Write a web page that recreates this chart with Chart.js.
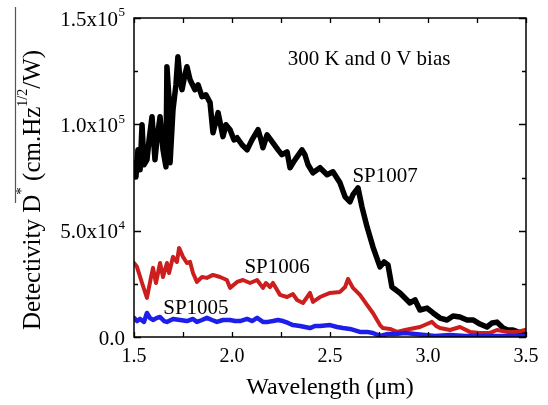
<!DOCTYPE html>
<html>
<head>
<meta charset="utf-8">
<script src="https://cdn.jsdelivr.net/npm/chart.js@4.4.0/dist/chart.umd.min.js"></script>
<style>
  html, body { margin: 0; padding: 0; background: #fff; }
  #wrap { width: 548px; height: 405px; position: relative; }
</style>
</head>
<body>
<div id="wrap"><canvas id="chartD"></canvas></div>
<script>
"use strict";

// SP1007 (black)
const sp1007Wl = [1.500, 1.510, 1.520, 1.531, 1.541, 1.551, 1.566, 1.577, 1.592, 1.607, 1.617, 1.633, 1.648, 1.663, 1.668, 1.679, 1.684, 1.699, 1.714, 1.724, 1.735, 1.745, 1.760, 1.770, 1.786, 1.811, 1.827, 1.847, 1.867, 1.888, 1.903, 1.929, 1.954, 1.969, 1.990, 2.010, 2.026, 2.051, 2.077, 2.102, 2.133, 2.148, 2.158, 2.179, 2.209, 2.235, 2.255, 2.281, 2.296, 2.321, 2.357, 2.372, 2.388, 2.413, 2.449, 2.485, 2.515, 2.551, 2.577, 2.602, 2.617, 2.643, 2.663, 2.689, 2.719, 2.755, 2.776, 2.796, 2.816, 2.857, 2.908, 2.934, 2.959, 2.995, 3.026, 3.061, 3.097, 3.128, 3.163, 3.199, 3.230, 3.265, 3.301, 3.327, 3.352, 3.383, 3.408, 3.434, 3.459, 3.485, 3.500];
const sp1007D = [81900, 75300, 88000, 78600, 99800, 81000, 83300, 92700, 103600, 83300, 92700, 103600, 88000, 80000, 127100, 111600, 81900, 106900, 118600, 131800, 121000, 116300, 123400, 127100, 121000, 116300, 118600, 113000, 113900, 110200, 96000, 105500, 94200, 99800, 97500, 92700, 93700, 90400, 88000, 92700, 97500, 92700, 89000, 95100, 91300, 88000, 85700, 87100, 79600, 83300, 88000, 85700, 81000, 77200, 79600, 76300, 77700, 72500, 65900, 63600, 66900, 70100, 61200, 51800, 42400, 33000, 35300, 33900, 23500, 20700, 16000, 17400, 12700, 13600, 11300, 8900, 8000, 9900, 9400, 8000, 8000, 6100, 4700, 6600, 7000, 4200, 3300, 3300, 2400, 1900, 1400];

// SP1006 (red)
const sp1006Wl = [1.500, 1.515, 1.541, 1.566, 1.587, 1.597, 1.612, 1.633, 1.648, 1.668, 1.679, 1.699, 1.719, 1.730, 1.750, 1.770, 1.786, 1.801, 1.821, 1.847, 1.872, 1.903, 1.939, 1.974, 1.990, 2.026, 2.056, 2.092, 2.128, 2.158, 2.173, 2.194, 2.209, 2.245, 2.281, 2.311, 2.332, 2.362, 2.398, 2.413, 2.449, 2.500, 2.551, 2.577, 2.592, 2.617, 2.653, 2.689, 2.719, 2.755, 2.770, 2.806, 2.842, 2.883, 2.908, 2.959, 2.995, 3.020, 3.041, 3.061, 3.112, 3.163, 3.214, 3.265, 3.316, 3.352, 3.403, 3.454, 3.495];
const sp1006D = [34800, 33000, 25400, 18400, 28200, 32500, 25400, 34800, 28200, 34800, 30100, 37700, 35300, 41900, 37700, 34800, 35300, 30100, 25900, 28200, 27800, 29200, 28200, 26800, 23100, 25900, 26800, 25400, 26800, 23100, 25400, 23500, 25400, 19800, 18800, 20200, 17400, 16000, 20700, 16500, 18800, 20700, 21200, 23500, 27300, 23100, 19800, 15100, 11300, 5600, 4200, 3800, 2400, 3300, 3800, 4700, 6100, 7100, 5200, 4200, 3300, 4700, 2400, 1900, 1900, 3300, 2400, 2400, 3300];

// SP1005 (blue)
const sp1005Wl = [1.500, 1.515, 1.531, 1.551, 1.566, 1.582, 1.597, 1.617, 1.633, 1.653, 1.668, 1.699, 1.735, 1.770, 1.801, 1.821, 1.847, 1.872, 1.898, 1.923, 1.954, 1.990, 2.015, 2.041, 2.077, 2.102, 2.128, 2.158, 2.184, 2.209, 2.235, 2.260, 2.286, 2.311, 2.347, 2.398, 2.423, 2.449, 2.500, 2.536, 2.566, 2.602, 2.653, 2.689, 2.719, 2.755, 2.796, 2.832, 2.883, 2.934, 2.985, 3.036, 3.112, 3.189, 3.265, 3.367, 3.495];
const sp1005D = [9000, 7500, 8500, 7100, 11300, 8900, 8000, 9000, 9400, 7500, 7100, 8500, 8000, 7500, 8500, 7100, 8000, 9000, 8000, 7100, 8000, 8000, 7500, 7500, 8500, 7500, 9000, 7100, 7100, 7500, 8000, 7500, 6600, 5600, 5200, 4200, 5200, 5200, 5600, 4700, 4200, 3800, 2400, 2400, 1900, 500, 1400, 1400, 1900, 1400, 900, 500, 900, 500, 500, 500, 500];

// axis ticks
const xTickValues = [1.5, 2.0, 2.5, 3.0, 3.5];
const xTickLabels = ["1.5", "2.0", "2.5", "3.0", "3.5"];
const yTickValues = [0, 50000, 100000, 150000];
const yTickMantissa = ["0.0", "5.0x10", "1.0x10", "1.5x10"];
const yTickExponent = ["", "4", "5", "5"];

// labels written on the plot (data coordinates of their centre)
const notes = [
  { text: "SP1007", x: 2.781, y: 75300 },
  { text: "SP1006", x: 2.230, y: 32500 },
  { text: "SP1005", x: 1.816, y: 13600 },
  { text: "300 K and 0 V bias", x: 2.699, y: 130400 },
];

const toPoints = (wl, d) => wl.map((w, i) => ({ x: w, y: d[i] }));

const SERIF = "'Liberation Serif', 'DejaVu Serif', serif";

const framePlugin = {
  id: "frame",
  afterDatasetsDraw(chart) {
    const { ctx, chartArea: a, scales: { x, y } } = chart;
    ctx.save();
    ctx.strokeStyle = "#000";
    ctx.lineWidth = 1.5;
    ctx.strokeRect(a.left, a.top, a.right - a.left, a.bottom - a.top);

    // inward ticks, minor every 0.25 / 25000
    ctx.lineWidth = 1.3;
    for (let v = 1.5; v <= 3.5001; v += 0.25) {
      const px = Math.round(x.getPixelForValue(v)) + 0.5;
      const len = 5;
      ctx.beginPath();
      ctx.moveTo(px, a.bottom); ctx.lineTo(px, a.bottom - len);
      ctx.moveTo(px, a.top); ctx.lineTo(px, a.top + len);
      ctx.stroke();
    }
    for (let v = 0; v <= 150000; v += 25000) {
      const py = Math.round(y.getPixelForValue(v)) + 0.5;
      const len = v % 50000 === 0 ? 7 : 4;
      ctx.beginPath();
      ctx.moveTo(a.left, py); ctx.lineTo(a.left + len, py);
      ctx.moveTo(a.right, py); ctx.lineTo(a.right - len, py);
      ctx.stroke();
    }

    ctx.fillStyle = "#000";
    // x tick labels
    ctx.font = "20px " + SERIF;
    ctx.textAlign = "center";
    ctx.textBaseline = "middle";
    xTickValues.forEach((v, i) => {
      ctx.fillText(xTickLabels[i], x.getPixelForValue(v), a.bottom + 20);
    });

    // y tick labels with superscript exponent
    const rightEdge = a.left - 9;
    yTickValues.forEach((v, i) => {
      const py = y.getPixelForValue(v);
      ctx.font = "13px " + SERIF;
      const ew = yTickExponent[i] ? ctx.measureText(yTickExponent[i]).width : 0;
      ctx.textAlign = "left";
      if (ew) ctx.fillText(yTickExponent[i], rightEdge - ew, py - 5);
      ctx.font = "21px " + SERIF;
      ctx.textAlign = "right";
      ctx.fillText(yTickMantissa[i], rightEdge - ew - (ew ? 0.5 : 0), py + 2);
    });

    // axis titles
    ctx.font = "24px " + SERIF;
    ctx.textAlign = "center";
    ctx.fillText("Wavelength (\u03bcm)", (a.left + a.right) / 2, a.bottom + 51);

    ctx.save();
    ctx.translate(40, 190);
    ctx.rotate(-Math.PI / 2);
    const parts = [
      ["Detectivity D", 25, 0],
      ["*", 15, -14],
      [" (cm.Hz", 25, 0],
      ["1/2", 14, -13],
      ["/W)", 25, 0],
    ];
    let total = 0;
    parts.forEach(p => { ctx.font = p[1] + "px " + SERIF; total += ctx.measureText(p[0]).width; });
    let cx = -total / 2;
    ctx.textAlign = "left";
    ctx.textBaseline = "alphabetic";
    parts.forEach(p => {
      ctx.font = p[1] + "px " + SERIF;
      ctx.fillText(p[0], cx, p[2]);
      cx += ctx.measureText(p[0]).width;
    });
    ctx.restore();

    // overline left of the y title
    ctx.strokeStyle = "#555";
    ctx.lineWidth = 1.2;
    ctx.beginPath();
    ctx.moveTo(15.5, 7); ctx.lineTo(15.5, 203);
    ctx.stroke();

    // notes
    ctx.fillStyle = "#000";
    ctx.textAlign = "center";
    ctx.textBaseline = "middle";
    ctx.font = "21px " + SERIF;
    notes.forEach(n => {
      ctx.fillText(n.text, x.getPixelForValue(n.x), y.getPixelForValue(n.y));
    });
    ctx.restore();
  },
};

const data = {
  datasets: [
    {
      label: "SP1005",
      data: toPoints(sp1005Wl, sp1005D),
      borderColor: "rgb(30, 30, 235)",
      borderWidth: 4.5,
      order: 1,
    },
    {
      label: "SP1006",
      data: toPoints(sp1006Wl, sp1006D),
      borderColor: "rgb(205, 30, 30)",
      borderWidth: 4,
      order: 2,
    },
    {
      label: "SP1007",
      data: toPoints(sp1007Wl, sp1007D),
      borderColor: "rgb(0, 0, 0)",
      borderWidth: 5.5,
      order: 3,
    },
  ],
};

const config = {
  type: "line",
  data: data,
  options: {
    responsive: true,
    maintainAspectRatio: false,
    animation: false,
    devicePixelRatio: 1,
    layout: {
      padding: { left: 134, right: 22, top: 18, bottom: 68 },
    },
    elements: {
      point: { radius: 0 },
      line: { tension: 0, borderJoinStyle: "round", borderCapStyle: "round" },
    },
    plugins: {
      legend: { display: false },
      tooltip: { enabled: false },
    },
    scales: {
      x: { type: "linear", min: 1.5, max: 3.5, display: false },
      y: { type: "linear", min: 0, max: 150000, display: false },
    },
  },
  plugins: [framePlugin],
};

const myChart = new Chart(document.getElementById("chartD"), config);
</script>
</body>
</html>
